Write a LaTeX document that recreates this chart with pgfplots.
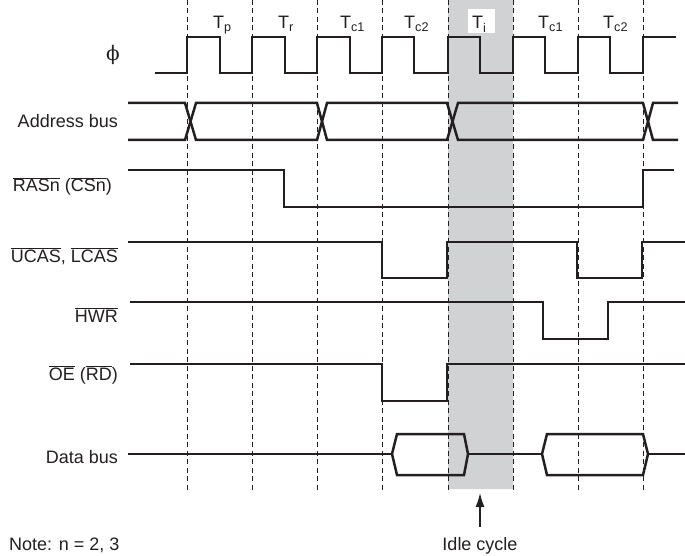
\documentclass[border=0pt]{standalone}
\usepackage{fontspec}
\setmainfont{Liberation Sans}
\newfontfamily\phifont{DejaVu Serif}
\usepackage{pgfplots}
\pgfplotsset{compat=1.18}
\usetikzlibrary{arrows.meta}
\definecolor{ink}{HTML}{231F20}
\definecolor{shade}{HTML}{D1D2D4}
\newcommand{\ol}[1]{$\overline{\mbox{#1}}$}
\newcommand{\lf}{\fontsize{18}{21.6}\selectfont}
\pgfplotsset{
  sig/.style={ink, line width=2.5pt, line join=miter, line cap=butt, mark=none},
  grd/.style={ink, line width=1pt, dash pattern=on 5pt off 3.5pt, mark=none},
}
\tikzset{lab/.style={font=\lf, text=ink, inner sep=0pt}}
\begin{document}
\begin{tikzpicture}
\begin{axis}[name=ax, scale only axis, width=685pt, height=556pt,
  xmin=0, xmax=685, ymin=0, ymax=556, y dir=reverse, hide axis, clip=false]
% idle cycle shading
\addplot[fill=shade, draw=none, mark=none] coordinates {(448,0) (513,0) (513,489) (448,489) (448,0)};
% dashed cycle boundaries
\addplot[grd] coordinates {(187,0) (187,490)};
\addplot[grd] coordinates {(252,0) (252,490)};
\addplot[grd] coordinates {(317,0) (317,490)};
\addplot[grd] coordinates {(382,0) (382,490)};
\addplot[grd] coordinates {(448,0) (448,490)};
\addplot[grd] coordinates {(513,0) (513,490)};
\addplot[grd] coordinates {(578,0) (578,490)};
\addplot[grd] coordinates {(643,0) (643,490)};
% clock
\addplot[sig] coordinates {(155,73) (187,73) (187,37) (220,37) (220,73) (252,73) (252,37) (285,37) (285,73) (317,73) (317,37) (350,37) (350,73) (382,73) (382,37) (414,37) (414,73) (448,73) (448,37) (480,37) (480,73) (513,73) (513,37) (545,37) (545,73) (578,73) (578,37) (610,37) (610,73) (643,73) (643,37) (676,37)};
% address bus
\addplot[sig] coordinates {(128,103) (185,103) (196,140) (317,140) (327,103) (447,103) (458,140) (643,140) (653,103) (678,103)};
\addplot[sig] coordinates {(128,140) (185,140) (196,103) (317,103) (327,140) (447,140) (458,103) (643,103) (653,140) (678,140)};
% RASn
\addplot[sig] coordinates {(128,170) (284,170) (284,207) (643,207) (643,170) (674,170)};
% UCAS LCAS
\addplot[sig] coordinates {(128,242) (382,242) (382,278) (447,278) (447,242) (577,242) (577,278) (642,278) (642,242) (685,242)};
% HWR
\addplot[sig] coordinates {(130,302) (543,302) (543,339) (608,339) (608,302) (685,302)};
% OE
\addplot[sig] coordinates {(130,364) (382,364) (382,401) (447,401) (447,364) (685,364)};
% data bus
\addplot[sig, line width=2pt] coordinates {(128,454) (392,454)};
\addplot[sig, line width=2pt] coordinates {(468,454) (542,454)};
\addplot[sig, line width=2pt] coordinates {(648,454) (685,454)};
\addplot[sig] coordinates {(392,454) (397,434) (464,434) (468,454) (464,475) (397,475) (392,454)};
\addplot[sig] coordinates {(542,454) (547,434) (643,434) (648,454) (643,475) (547,475) (542,454)};
% idle arrow
\addplot[ink, line width=1.4pt, mark=none, -{Latex[length=14pt,width=9pt]}] coordinates {(480,527) (480,493)};
% T_i white box
\fill[white] (axis cs:468,9) rectangle (axis cs:495,33);
% cycle labels
\node[lab, anchor=base west] at (axis cs:213,29) {T\textsubscript{p}};
\node[lab, anchor=base west] at (axis cs:278,29) {T\textsubscript{r}};
\node[lab, anchor=base west] at (axis cs:340,29) {T\textsubscript{c1}};
\node[lab, anchor=base west] at (axis cs:404,29) {T\textsubscript{c2}};
\node[lab, anchor=base west] at (axis cs:472,29) {T\textsubscript{i}};
\node[lab, anchor=base west] at (axis cs:538,29) {T\textsubscript{c1}};
\node[lab, anchor=base west] at (axis cs:603,29) {T\textsubscript{c2}};
% signal labels
\node[lab, font=\phifont\fontsize{20}{24}\selectfont] at (axis cs:113,55) {ϕ};
\node[lab, anchor=base east] at (axis cs:118,128) {Address bus};
\node[lab, anchor=base east] at (axis cs:112,192) {\ol{RASn} (\ol{CSn})};
\node[lab, anchor=base east] at (axis cs:118,262) {\ol{UCAS}, \ol{LCAS}};
\node[lab, anchor=base east] at (axis cs:118,322) {\ol{HWR}};
\node[lab, anchor=base east] at (axis cs:118,380) {\ol{OE} (\ol{RD})};
\node[lab, anchor=base east] at (axis cs:118,463) {Data bus};
\node[lab, anchor=base] at (axis cs:480,550) {Idle cycle};
\node[lab, anchor=base west] at (axis cs:9,550) {Note: n = 2, 3};
\end{axis}
\pgfresetboundingbox
\path (ax.south west) rectangle (ax.north east);
\end{tikzpicture}
\end{document}
